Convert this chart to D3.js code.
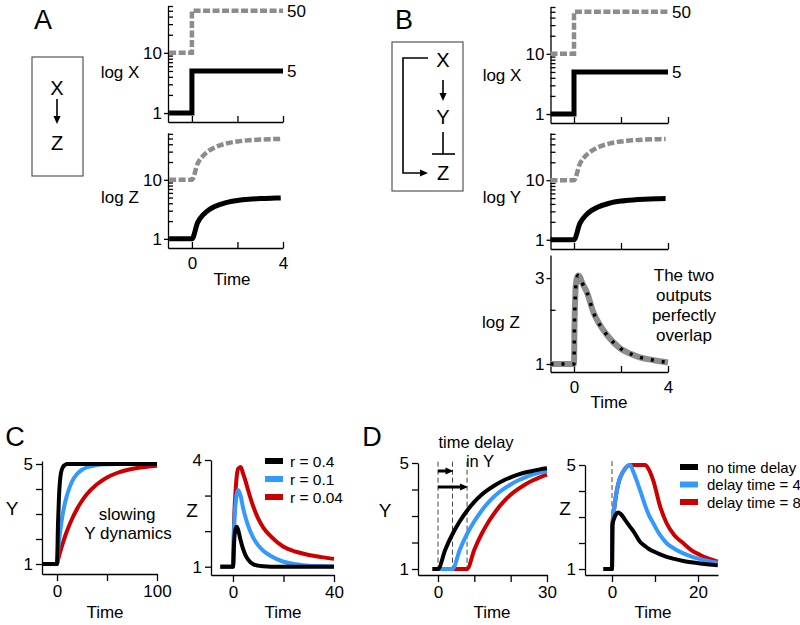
<!DOCTYPE html>
<html><head><meta charset="utf-8">
<script src="https://cdn.jsdelivr.net/npm/d3@7"></script>
<style>body{margin:0;background:#fff}</style>
</head><body><svg id="chart" width="800" height="625" style="background:#fff"></svg>
<script>
// ---------- DATA ----------
// Panels A & B : input X (step) at two levels
const stepTime = [-1, 0, 4];
const xLow = [1, 5, 5];
const xHigh = [10, 50, 50];
// response of Z (A) / Y (B)
const respTime = [-1, 0, 0.25, 0.5, 0.75, 1, 1.5, 2, 2.5, 3, 3.5, 3.9];
const respLow = [1, 1, 1.88, 2.57, 3.11, 3.53, 4.11, 4.46, 4.67, 4.80, 4.88, 4.92];
const respHigh = [10, 10, 18.8, 25.7, 31.1, 35.3, 41.1, 44.6, 46.7, 48.0, 48.8, 49.2];
// Z in panel B (both outputs identical)
const pulseTime = [-1, 0, 0.02, 0.06, 0.1, 0.17, 0.25, 0.34, 0.55, 0.83, 1.1, 1.4, 1.97, 2.4, 2.8, 3.4, 4];
const pulseZ = [1, 1, 1.6, 2.5, 2.9, 3.1, 3.05, 2.84, 2.5, 1.93, 1.65, 1.45, 1.22, 1.14, 1.09, 1.05, 1.02];

// Panel C : Y dynamics for three rates
const cTime = [-15, 0, 1, 2, 4, 6, 8, 10, 15, 20, 25, 30, 40, 50, 60, 70, 80, 90, 100];
const cY_r04 = [1, 1, 2.6, 3.7, 4.65, 4.88, 4.96, 5, 5, 5, 5, 5, 5, 5, 5, 5, 5, 5, 5];
const cY_r01 = [1, 1, 1.5, 1.9, 2.55, 3.05, 3.45, 3.75, 4.3, 4.6, 4.77, 4.87, 4.96, 4.99, 5, 5, 5, 5, 5];
const cY_r004 = [1, 1, 1.16, 1.31, 1.59, 1.85, 2.10, 2.32, 2.80, 3.20, 3.53, 3.80, 4.19, 4.46, 4.64, 4.76, 4.84, 4.89, 4.93];
// Panel C : Z
const czTime = [-5, 0, 0.5, 1, 1.5, 2, 3, 4, 5, 6, 8, 10, 12, 15, 20, 25, 30, 35, 40];
const cZ_r04 = [1, 1, 1.75, 2.05, 2.12, 2.05, 1.75, 1.5, 1.32, 1.2, 1.07, 1.03, 1.01, 1, 1, 1, 1, 1, 1];
const cZ_r01 = [1, 1, 2.2, 2.75, 3.05, 3.16, 3.0, 2.65, 2.38, 2.15, 1.82, 1.6, 1.45, 1.3, 1.14, 1.07, 1.03, 1.02, 1.01];
const cZ_r004 = [1, 1, 2.4, 3.1, 3.55, 3.75, 3.8, 3.62, 3.4, 3.15, 2.7, 2.35, 2.1, 1.85, 1.56, 1.42, 1.33, 1.27, 1.22];
const cLegend = ["r = 0.4", "r = 0.1", "r = 0.04"];

// Panel D : Y with time delays
const dTime = [-1.5, 0, 2, 4, 6, 8, 10, 12, 14, 16, 18, 20, 22, 24, 26, 28, 30];
const dY_none = [1, 1, 1.73, 2.32, 2.80, 3.20, 3.53, 3.80, 4.01, 4.19, 4.34, 4.46, 4.56, 4.64, 4.70, 4.76, 4.80];
const dY_d4 = [1, 1, 1, 1, 1.73, 2.32, 2.80, 3.20, 3.53, 3.80, 4.01, 4.19, 4.34, 4.46, 4.56, 4.64, 4.70];
const dY_d8 = [1, 1, 1, 1, 1, 1, 1.73, 2.32, 2.80, 3.20, 3.53, 3.80, 4.01, 4.19, 4.34, 4.46, 4.56];
const delayMarks = [0, 4, 8];
// Panel D : Z
const dzTime = [-2, 0, 0.1, 0.5, 1, 1.5, 2, 3, 4.2, 5, 6.5, 7.7, 8.5, 9.6, 11.2, 12.7, 14.5, 16.6, 18.5, 20.5, 22.5, 24.6];
const dZ_none = [1, 1, 2.7, 2.95, 3.12, 3.17, 3.12, 2.9, 2.62, 2.45, 2.05, 1.88, 1.78, 1.68, 1.56, 1.47, 1.39, 1.31, 1.26, 1.21, 1.17, 1.14];
const dZ_d4 = [1, 1, 2.7, 3.3, 3.9, 4.3, 4.55, 4.85, 5.0, 4.72, 4.04, 3.45, 3.1, 2.76, 2.3, 1.99, 1.78, 1.6, 1.48, 1.38, 1.3, 1.24];
const dZ_d8 = [1, 1, 2.7, 3.3, 3.9, 4.3, 4.55, 4.85, 5.0, 5.0, 5.0, 5.0, 4.85, 4.4, 3.4, 2.76, 2.3, 1.99, 1.72, 1.54, 1.4, 1.28];
const dLegend = ["no time delay", "delay time = 4", "delay time = 8"];

// ---------- STYLE ----------
const FONT = '"Liberation Sans", Arial, Helvetica, sans-serif';
const GRAY = "#8c8c8c", BLUE = "#3399ff", RED = "#cc0000";
const svg = d3.select("#chart");

function txt(x, y, s, size, anchor) {
  return svg.append("text").attr("x", x).attr("y", y).attr("font-size", size)
    .attr("text-anchor", anchor || "middle").attr("dominant-baseline", "central")
    .attr("font-family", FONT).attr("fill", "#000").text(s);
}
function styleAxis(g, size) {
  g.attr("font-family", FONT).attr("font-size", size);
  g.selectAll("path.domain").attr("stroke", "#000").attr("stroke-width", 1.3);
  g.selectAll(".tick line").attr("stroke", "#000").attr("stroke-width", 1.3);
  g.selectAll(".tick text").attr("fill", "#000");
}
function xAxis(x, yPos, ticks, labels, inward) {
  const ax = d3.axisBottom(x).tickValues(ticks).tickSizeOuter(0)
    .tickSizeInner(inward ? -6 : 7).tickPadding(inward ? 9 : 4)
    .tickFormat(d => labels.includes(d) ? String(d) : "");
  styleAxis(svg.append("g").attr("transform", `translate(0,${yPos})`).call(ax), 17);
}
function yAxisLin(y, xPos, ticks, labels) {
  const ax = d3.axisLeft(y).tickValues(ticks).tickSizeOuter(0).tickSizeInner(6).tickPadding(3)
    .tickFormat(d => labels.includes(d) ? String(d) : "");
  styleAxis(svg.append("g").attr("transform", `translate(${xPos},0)`).call(ax), 17);
}
function yAxisLog(y, xPos, minors, majors, labels) {
  const a1 = d3.axisLeft(y).tickValues(minors).tickSizeOuter(0).tickSizeInner(-5).tickFormat("");
  styleAxis(svg.append("g").attr("transform", `translate(${xPos},0)`).call(a1), 17);
  const a2 = d3.axisLeft(y).tickValues(majors).tickSizeOuter(0).tickSizeInner(4).tickPadding(2)
    .tickFormat(d => labels.includes(d) ? String(d) : "");
  const g = svg.append("g").attr("transform", `translate(${xPos},0)`).call(a2);
  g.select(".domain").remove();
  styleAxis(g, 17);
}
function series(x, y, ts, vs, color, width, opts) {
  opts = opts || {};
  const line = d3.line().x((d, i) => x(ts[i])).y(d => y(d)).curve(opts.curve || d3.curveMonotoneX);
  svg.append("path").datum(vs).attr("d", line).attr("fill", "none")
    .attr("stroke", color).attr("stroke-width", width)
    .attr("stroke-dasharray", opts.dash || null)
    .attr("stroke-linejoin", opts.join || "round").attr("stroke-linecap", "butt");
}
function arrowHead(x, y, dir, size) {
  const s = size;
  const p = dir === "down" ? [[x, y], [x - s * 0.45, y - s], [x + s * 0.45, y - s]]
                           : [[x, y], [x - s, y - s * 0.45], [x - s, y + s * 0.45]];
  svg.append("path").attr("d", d3.line()(p) + "Z").attr("fill", "#000");
}

const logMinor = [2, 3, 4, 5, 6, 7, 8, 9, 20, 30, 40, 50, 60];
const logMajor = [1, 10];

// ---------- PANEL A ----------
txt(43, 20, "A", 27);
svg.append("rect").attr("x", 32).attr("y", 57).attr("width", 51).attr("height", 119)
  .attr("fill", "none").attr("stroke", "#555").attr("stroke-width", 1.2);
txt(57, 88, "X", 20);
svg.append("line").attr("x1", 57).attr("x2", 57).attr("y1", 99).attr("y2", 118).attr("stroke", "#000").attr("stroke-width", 1.6);
arrowHead(57, 124, "down", 8);
txt(57, 143, "Z", 20);

const xA = d3.scaleLinear().domain([-1.05, 4]).range([168, 283]);
const yA1 = d3.scaleLog().domain([0.71, 60]).range([122, 6]);
const yA2 = d3.scaleLog().domain([0.7, 62]).range([248, 133]);
yAxisLog(yA1, 168, logMinor, logMajor, [1, 10]);
xAxis(xA, 122, [0, 2, 4], [], true);
series(xA, yA1, stepTime, xHigh, GRAY, 4.5, {curve: d3.curveStepAfter, dash: "7,2.5", join: "miter"});
series(xA, yA1, stepTime, xLow, "#000", 5, {curve: d3.curveStepAfter, join: "miter"});
txt(120, 72, "log X", 17);
txt(287, 11, "50", 17, "start");
txt(287, 71, "5", 17, "start");

yAxisLog(yA2, 168, logMinor, logMajor, [1, 10]);
xAxis(xA, 248, [0, 2, 4], [0, 4], true);
series(xA, yA2, respTime, respHigh, GRAY, 4.5, {dash: "7,2.5"});
series(xA, yA2, respTime, respLow, "#000", 5);
txt(120, 197, "log Z", 17);
txt(232, 279, "Time", 17);

// ---------- PANEL B ----------
txt(404, 20, "B", 27);
svg.append("rect").attr("x", 392).attr("y", 42).attr("width", 71).attr("height", 149)
  .attr("fill", "none").attr("stroke", "#555").attr("stroke-width", 1.2);
txt(443, 60, "X", 20);
svg.append("line").attr("x1", 443).attr("x2", 443).attr("y1", 80).attr("y2", 95).attr("stroke", "#000").attr("stroke-width", 1.6);
arrowHead(443, 101, "down", 8);
txt(443, 117, "Y", 20);
svg.append("line").attr("x1", 443).attr("x2", 443).attr("y1", 132).attr("y2", 154).attr("stroke", "#000").attr("stroke-width", 1.6);
svg.append("line").attr("x1", 432).attr("x2", 455).attr("y1", 154).attr("y2", 154).attr("stroke", "#000").attr("stroke-width", 1.6);
txt(443, 173, "Z", 20);
svg.append("path").attr("d", "M428,58H403V173H421").attr("fill", "none").attr("stroke", "#000").attr("stroke-width", 1.6);
arrowHead(428, 173, "right", 8);

const xB = d3.scaleLinear().domain([-1, 4]).range([550.5, 668]);
const yB1 = d3.scaleLog().domain([0.71, 60]).range([123, 7]);
const yB2 = d3.scaleLog().domain([0.7, 62]).range([249, 133]);
const yB3 = d3.scaleLog().domain([0.903, 4.03]).range([372, 255]);
yAxisLog(yB1, 550.5, logMinor, logMajor, [1, 10]);
xAxis(xB, 123, [0, 2, 4], [], true);
series(xB, yB1, stepTime, xHigh, GRAY, 4.5, {curve: d3.curveStepAfter, dash: "7,2.5", join: "miter"});
series(xB, yB1, stepTime, xLow, "#000", 5, {curve: d3.curveStepAfter, join: "miter"});
txt(502, 75, "log X", 17);
txt(672, 12, "50", 17, "start");
txt(672, 72, "5", 17, "start");

yAxisLog(yB2, 550.5, logMinor, logMajor, [1, 10]);
xAxis(xB, 249, [0, 2, 4], [], true);
series(xB, yB2, respTime, respHigh, GRAY, 4.5, {dash: "7,2.5"});
series(xB, yB2, respTime, respLow, "#000", 5);
txt(502, 197, "log Y", 17);

yAxisLog(yB3, 550.5, [2], [1, 3], [1, 3]);
xAxis(xB, 372, [0, 2, 4], [0, 4], true);
series(xB, yB3, pulseTime, pulseZ, GRAY, 6);
series(xB, yB3, pulseTime, pulseZ, "#000", 3.5, {dash: "3,8"});
txt(501, 322, "log Z", 17);
txt(609, 402, "Time", 17);
["The two", "outputs", "perfectly", "overlap"].forEach((s, i) => txt(684, 275 + i * 20, s, 17));

// ---------- PANEL C ----------
txt(15, 437, "C", 27);
const xC1 = d3.scaleLinear().domain([-15, 100]).range([42, 157]);
const yC1 = d3.scaleLinear().domain([0.6, 5.12]).range([574, 461]);
yAxisLin(yC1, 42, [1, 2, 3, 4, 5], [1, 5]);
xAxis(xC1, 574, [0, 50, 100], [0, 100], false);
series(xC1, yC1, cTime, cY_r004, RED, 4);
series(xC1, yC1, cTime, cY_r01, BLUE, 4);
series(xC1, yC1, cTime, cY_r04, "#000", 4);
txt(12, 508, "Y", 19);
txt(127, 514, "slowing", 17);
txt(128, 533, "Y dynamics", 17);
txt(105, 612, "Time", 17);

const xC2 = d3.scaleLinear().domain([-8.7, 40]).range([211, 334]);
const yC2 = d3.scaleLinear().domain([0.767, 4]).range([575, 460]);
yAxisLin(yC2, 211, [1, 2, 3, 4], [1, 4]);
xAxis(xC2, 575, [0, 20, 40], [0, 40], false);
series(xC2, yC2, czTime, cZ_r004, RED, 4);
series(xC2, yC2, czTime, cZ_r01, BLUE, 4);
series(xC2, yC2, czTime, cZ_r04, "#000", 4);
txt(192, 510, "Z", 19);
txt(283, 612, "Time", 17);
const cColors = ["#000", BLUE, RED];
cLegend.forEach((s, i) => {
  const yy = 461 + i * 18;
  svg.append("line").attr("x1", 265).attr("x2", 283).attr("y1", yy).attr("y2", yy).attr("stroke", cColors[i]).attr("stroke-width", 6);
  txt(290, yy, s, 15.5, "start");
});

// ---------- PANEL D ----------
txt(372, 437, "D", 27);
const xD1 = d3.scaleLinear().domain([-5.5, 30]).range([418, 547]);
const yD1 = d3.scaleLinear().domain([0.774, 5]).range([575, 463]);
yAxisLin(yD1, 418, [1, 2, 3, 4, 5], [1, 5]);
xAxis(xD1, 575, [0, 10, 20, 30], [0, 30], false);
delayMarks.forEach(t => {
  svg.append("line").attr("x1", xD1(t)).attr("x2", xD1(t)).attr("y1", yD1(5.05)).attr("y2", yD1(0.95))
    .attr("stroke", "#444").attr("stroke-width", 1).attr("stroke-dasharray", "5,3");
});
series(xD1, yD1, dTime, dY_d8, RED, 4);
series(xD1, yD1, dTime, dY_d4, BLUE, 4);
series(xD1, yD1, dTime, dY_none, "#000", 4);
[[4, 471], [8, 487]].forEach(([t, yy]) => {
  svg.append("line").attr("x1", xD1(0)).attr("x2", xD1(t) - 6).attr("y1", yy).attr("y2", yy).attr("stroke", "#000").attr("stroke-width", 3);
  arrowHead(xD1(t) + 1, yy, "right", 8);
});
txt(476, 442, "time delay", 16.5);
txt(480, 461, "in Y", 16.5);
txt(385, 510, "Y", 19);
txt(492, 612, "Time", 17);

const xD2 = d3.scaleLinear().domain([-6.28, 24.65]).range([585, 718]);
const yD2 = d3.scaleLinear().domain([0.77, 5]).range([575, 465]);
yAxisLin(yD2, 585, [1, 2, 3, 4, 5], [1, 5]);
xAxis(xD2, 575, [0, 10, 20], [0, 20], false);
svg.append("line").attr("x1", xD2(0)).attr("x2", xD2(0)).attr("y1", yD2(5.15)).attr("y2", yD2(1))
  .attr("stroke", "#444").attr("stroke-width", 1).attr("stroke-dasharray", "5,3");
series(xD2, yD2, dzTime, dZ_d8, RED, 4);
series(xD2, yD2, dzTime, dZ_d4, BLUE, 4);
series(xD2, yD2, dzTime, dZ_none, "#000", 4);
txt(565, 508, "Z", 19);
txt(653, 612, "Time", 17);
dLegend.forEach((s, i) => {
  const yy = 467 + i * 17.5;
  svg.append("line").attr("x1", 680).attr("x2", 698).attr("y1", yy).attr("y2", yy).attr("stroke", cColors[i]).attr("stroke-width", 6);
  txt(707, yy, s, 15, "start");
});
</script>
</body></html>
